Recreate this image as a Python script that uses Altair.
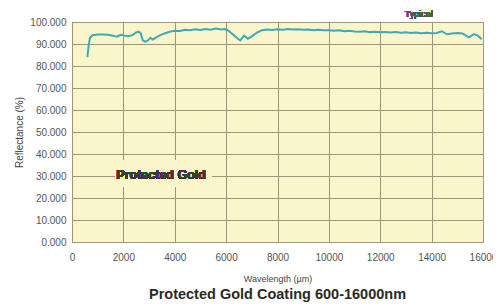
import altair as alt
import pandas as pd

wavelength = [600, 650, 700, 800, 1000, 1200, 1400, 1600, 1750, 1900, 2050, 2200, 2350, 2500, 2600,
              2680, 2750, 2850, 2950, 3050, 3150, 3250, 3400, 3600, 3800, 4000, 4200, 4400, 4600,
              4800, 5000, 5200, 5400, 5600, 5800, 5950, 6100, 6300, 6450, 6550, 6700, 6850, 7000,
              7200, 7400, 7600, 7800, 8000, 8200, 8400, 8600, 8800, 9000, 9200, 9400, 9600, 9800,
              10000, 10200, 10400, 10600, 10800, 11000, 11200, 11400, 11600, 11800, 12000, 12200,
              12400, 12600, 12800, 13000, 13200, 13400, 13600, 13800, 14000, 14200, 14400, 14600,
              14800, 15000, 15200, 15450, 15650, 15800, 15950]
reflectance = [84.0, 89.5, 92.8, 94.0, 94.3, 94.3, 94.2, 93.8, 93.3, 94.2, 93.8, 93.5, 94.0, 95.3, 95.6,
               94.8, 91.8, 91.0, 91.6, 92.8, 92.0, 92.8, 93.8, 94.8, 95.6, 96.0, 95.9, 96.5, 96.3,
               96.7, 96.4, 96.8, 96.5, 97.0, 96.6, 96.8, 96.0, 94.0, 92.5, 91.6, 93.8, 92.4, 93.5,
               95.2, 96.3, 96.6, 96.4, 96.7, 96.5, 96.8, 96.6, 96.7, 96.5, 96.6, 96.3, 96.5, 96.2,
               96.3, 96.0, 96.2, 95.8, 96.0, 95.7, 95.6, 95.8, 95.4, 95.6, 95.3, 95.5, 95.2,
               95.4, 95.1, 95.3, 95.0, 95.2, 94.9, 95.1, 94.9, 95.0, 95.8, 94.4, 94.8, 95.0,
               94.8, 93.0, 94.5, 93.8, 92.2]

x_ticks = [0, 2000, 4000, 6000, 8000, 10000, 12000, 14000, 16000]
y_ticks = [0, 10, 20, 30, 40, 50, 60, 70, 80, 90, 100]

df = pd.DataFrame({"w": wavelength, "r": reflectance})

BG = "#fbf5cb"
GRID = "#9d967a"
FONT = "Liberation Sans"

xs = alt.Scale(domain=[0, 16000], nice=False)
ys = alt.Scale(domain=[0, 100], nice=False)

x_axis = alt.Axis(
    values=x_ticks, format="d", title="Wavelength (µm)", grid=True, gridColor=GRID,
    gridOpacity=1, gridWidth=1, tickSize=0, labelPadding=10, labelFontSize=10,
    labelColor="#555555", labelFont=FONT, titleFont=FONT, titleFontSize=9,
    titleFontWeight="normal", titleColor="#444444", titlePadding=12, domain=False,
    labelFlush=False, labelOverlap=False)
y_axis = alt.Axis(
    values=y_ticks, format=".3f", title="Reflectance (%)", grid=True, gridColor=GRID,
    gridOpacity=1, gridWidth=1, tickSize=0, labelPadding=6, labelFontSize=10,
    labelColor="#555555", labelFont=FONT, titleFont=FONT, titleFontSize=10,
    titleFontWeight="normal", titleColor="#444444", titlePadding=5, domain=False,
    labelOverlap=False)

line = alt.Chart(df).mark_line(color="#3eaab8", strokeWidth=2).encode(
    x=alt.X("w:Q", scale=xs, axis=x_axis), y=alt.Y("r:Q", scale=ys, axis=y_axis))

box = alt.Chart(df).mark_rect(color=BG).encode(
    x=alt.datum(1680, scale=xs, axis=x_axis), x2=alt.datum(5450),
    y=alt.datum(25, scale=ys, axis=y_axis), y2=alt.datum(37))

label = alt.Chart(df).mark_text(
    text="Protected Gold", font=FONT, fontSize=12.5, fontWeight="bold", color="#3a3a30"
).encode(x=alt.datum(3470, scale=xs, axis=x_axis), y=alt.datum(30.5, scale=ys, axis=y_axis))

typical = alt.Chart(df).mark_text(
    text="Typical", font=FONT, fontSize=9, color="#555555", clip=False
).encode(x=alt.datum(13500, scale=xs, axis=x_axis), y=alt.datum(103.6, scale=ys, axis=y_axis))

chart = alt.layer(line, box, label, typical).properties(
    width=411, height=220,
    padding={"left": 64, "top": 14, "right": 10, "bottom": 64},
    autosize=alt.AutoSizeParams(type="none"),
    title=alt.TitleParams("Protected Gold Coating 600-16000nm", orient="bottom",
                          font=FONT, fontSize=14.5, fontWeight="bold",
                          color="#2a2a24", offset=5, anchor="middle"),
    background="white",
).configure_view(fill=BG, stroke="#6e6a5a", strokeWidth=1)

chart.save("out.html", embed_options={"renderer": "svg", "actions": False})
